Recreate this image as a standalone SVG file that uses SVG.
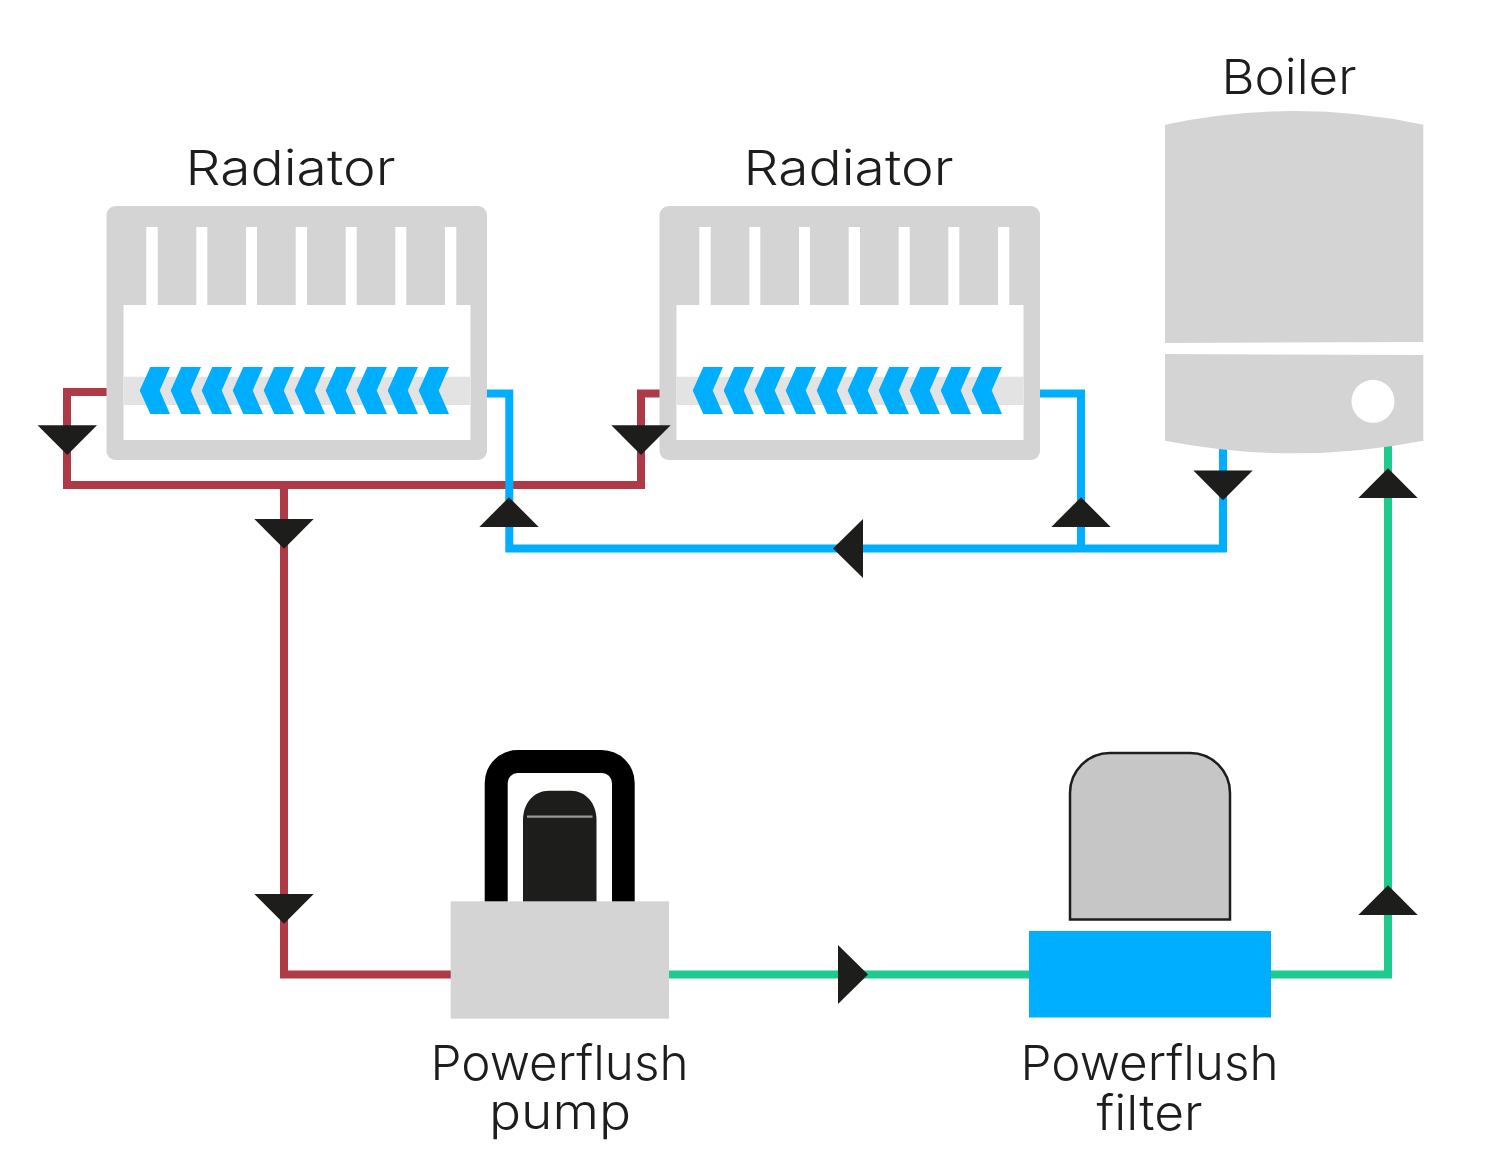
<svg xmlns="http://www.w3.org/2000/svg" width="1500" height="1176" viewBox="0 0 1500 1176">
<style>
.g{fill:#d4d4d4}
.w{fill:#fff}
.p{fill:none;stroke-width:8;stroke-linejoin:miter}
.r{stroke:#ae3a48}.b{stroke:#00aeff}.n{stroke:#1ecb8e}
.a{fill:#1d1d1b}
.c{fill:#00aeff}
text{font-family:"Inter","Liberation Sans",sans-serif;font-weight:300;font-size:48.5px;fill:#1d1d1b;text-anchor:middle}
</style>
<defs>
<polygon id="chev" points="0,24 10.6,0.5 30.3,0.5 20,24 30.3,47.5 10.6,47.5"/>
<g id="rad">
<rect class="g" x="106.5" y="206" width="380.5" height="254" rx="9"/>
<rect class="w" x="123.5" y="305" width="347" height="135"/>
<rect class="w" x="146.3" y="227" width="11.4" height="79"/>
<rect class="w" x="196.3" y="227" width="11" height="79"/>
<rect class="w" x="246" y="227" width="11" height="79"/>
<rect class="w" x="295.7" y="227" width="11.3" height="79"/>
<rect class="w" x="345.7" y="227" width="11" height="79"/>
<rect class="w" x="395.3" y="227" width="11" height="79"/>
<rect class="w" x="445" y="227" width="11.3" height="79"/>
<rect x="123.5" y="376.7" width="347" height="28.3" fill="#e3e3e3"/>
<g class="c" transform="translate(139.7,366.5)">
<use href="#chev" x="0"/><use href="#chev" x="31"/><use href="#chev" x="62"/><use href="#chev" x="93"/><use href="#chev" x="124"/><use href="#chev" x="155"/><use href="#chev" x="186"/><use href="#chev" x="217"/><use href="#chev" x="248"/><use href="#chev" x="279"/>
</g>
</g>
<polygon id="dn" points="-29.7,-15 29.7,-15 0,14.8"/>
<polygon id="up" points="-29.7,15 29.7,15 0,-14.8"/>
</defs>
<rect width="1500" height="1176" fill="#fff"/>
<g id="connectors">
<path class="p r" d="M107 392H67V485H641V393.500H660"/>
<path class="p r" d="M284 485V974.500H451"/>
<path class="p b" d="M487 393.500H509.300V548.500H1223V448"/>
<path class="p b" d="M1040 393.500H1081V548.500"/>
<path class="p n" d="M669 974.500H1029M1271 974.500H1388V446"/>
</g>
<g id="radiator-1"><use href="#rad"/><text x="290.500" y="185" textLength="210" lengthAdjust="spacingAndGlyphs">Radiator</text></g>
<g id="radiator-2"><use href="#rad" x="553"/><text x="848.500" y="185" textLength="210" lengthAdjust="spacingAndGlyphs">Radiator</text></g>
<g id="boiler">
<path class="g" d="M1165 124.700Q1294 97.500 1423.300 124.700V342L1165 343Z"/>
<path class="g" d="M1165 354L1423.300 355V440.700Q1294 466 1165 440.700Z"/>
<circle class="w" cx="1373" cy="401.300" r="21.500"/>
<text x="1289" y="94" textLength="135" lengthAdjust="spacingAndGlyphs">Boiler</text>
</g>
<g id="pump">
<path d="M484.700 902V783A33 33 0 0 1 517.700 750H601.700A33 33 0 0 1 634.700 783V902H612V783A10 10 0 0 0 602 773H517.700A10 10 0 0 0 507.700 783V902Z" fill="#000"/>
<path class="a" d="M523 902V820C523 803 534 790.700 549 790.700H570.500C585.500 790.700 596.500 803 596.500 820V902Z"/>
<path d="M527 816.700H592.500" stroke="#999" stroke-width="2.200" fill="none"/>
<rect class="g" x="450.700" y="901.300" width="218.300" height="117.400"/>
<text x="559.500" y="1080" textLength="258" lengthAdjust="spacingAndGlyphs">Powerflush</text><text x="560" y="1129" textLength="142" lengthAdjust="spacingAndGlyphs">pump</text>
</g>
<g id="filter">
<path d="M1070 919.500V793A40 40 0 0 1 1110 753H1190A40 40 0 0 1 1230 793V919.500Z" fill="#c6c6c6" stroke="#1d1d1b" stroke-width="2.500"/>
<rect class="c" x="1029" y="931" width="242" height="86.500"/>
<text x="1149.500" y="1080" textLength="258" lengthAdjust="spacingAndGlyphs">Powerflush</text><text x="1149.500" y="1130" textLength="106" lengthAdjust="spacingAndGlyphs">filter</text>
</g>
<g id="arrows" class="a">
<use href="#dn" x="67.300" y="440.300"/>
<use href="#dn" x="641" y="440.300"/>
<use href="#dn" x="284" y="534"/>
<use href="#dn" x="284" y="909"/>
<use href="#dn" x="1223" y="485.500"/>
<use href="#up" x="509" y="512"/>
<use href="#up" x="1081" y="512"/>
<use href="#up" x="1388" y="483"/>
<use href="#up" x="1388" y="900"/>
<polygon points="833,548.500 863,519 863,578"/>
<polygon points="868,974.500 838,945 838,1004"/>
</g>
</svg>
